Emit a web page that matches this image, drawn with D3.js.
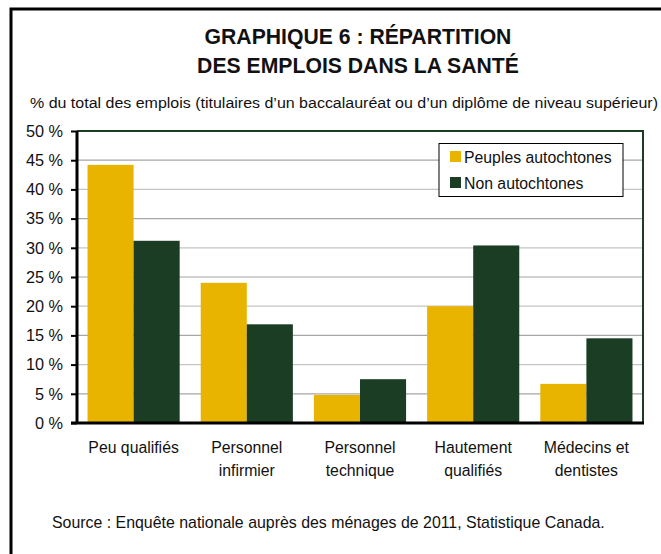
<!DOCTYPE html>
<html><head><meta charset="utf-8">
<script src="https://cdn.jsdelivr.net/npm/d3@7"></script>
<style>body{margin:0;background:#fff}svg{display:block;font-family:"Liberation Sans",Arial,sans-serif}</style>
</head><body><svg id="c" width="661" height="554"></svg>
<script>
const categories = [["Peu qualifiés"],["Personnel","infirmier"],["Personnel","technique"],["Hautement","qualifiés"],["Médecins et","dentistes"]];
const seriesNames = ["Peuples autochtones","Non autochtones"];
const seriesColors = ["#e8b400","#1a3d23"];
const autochtones = [44.2, 24.0, 4.8, 20.0, 6.7];
const nonAutochtones = [31.2, 16.9, 7.5, 30.4, 14.5];
const yTicks = [0,5,10,15,20,25,30,35,40,45,50];

const svg = d3.select("#c");
const L=77, R=643, T=131, B=423;
// outer frame
svg.append("rect").attr("x",11).attr("y",9).attr("width",700).attr("height",600)
  .attr("fill","none").attr("stroke","#000").attr("stroke-width",3);

svg.append("text").attr("x",358).attr("y",44).attr("text-anchor","middle")
  .attr("font-weight","bold").attr("font-size",21.2).attr("fill","#111").text("GRAPHIQUE 6 : RÉPARTITION");
svg.append("text").attr("x",358).attr("y",73).attr("text-anchor","middle")
  .attr("font-weight","bold").attr("font-size",21.2).attr("fill","#111").text("DES EMPLOIS DANS LA SANTÉ");
svg.append("text").attr("x",30).attr("y",108).attr("font-size",15.5).attr("fill","#111").attr("textLength",628).attr("lengthAdjust","spacingAndGlyphs")
  .text("% du total des emplois (titulaires d’un baccalauréat ou d’un diplôme de niveau supérieur)");

const x0 = d3.scaleBand().domain(d3.range(categories.length)).range([L,R]).paddingInner(0.186).paddingOuter(0.093);
const x1 = d3.scaleBand().domain([0,1]).range([0,x0.bandwidth()]);
const y = d3.scaleLinear().domain([0,50]).range([B,T]);

// gridlines
svg.append("g").selectAll("line").data(yTicks.filter(d=>d>0&&d<50)).join("line")
  .attr("x1",L).attr("x2",R).attr("y1",d=>y(d)).attr("y2",d=>y(d))
  .attr("stroke",(d,i)=>i%2? "#c4c4c4":"#a6a6a6").attr("stroke-width",1.2);
// plot frame top/right
svg.append("path").attr("d",`M${L},${y(50)}H${R}V${B}`).attr("fill","none").attr("stroke","#1a3d23").attr("stroke-width",2);

const data = [autochtones, nonAutochtones];
const g = svg.append("g");
data.forEach((vals,s)=>{
  g.selectAll(null).data(vals).join("rect")
    .attr("x",(d,i)=>x0(i)+x1(s)).attr("width",x1.bandwidth())
    .attr("y",d=>y(d)).attr("height",d=>B-y(d)).attr("fill",seriesColors[s]);
});

// y axis
const ya = svg.append("g").attr("transform",`translate(${L},0)`)
  .call(d3.axisLeft(y).tickValues(yTicks).tickFormat(d=>d+" %").tickSize(6).tickPadding(8));
ya.select(".domain").attr("stroke","#000").attr("stroke-width",3).attr("d",`M0,${T}V${B}`);
ya.selectAll(".tick line").attr("stroke","#000").attr("stroke-width",2);
ya.selectAll(".tick text").attr("font-size",16.3).attr("fill","#111").attr("font-family","Liberation Sans, Arial, sans-serif");
// x baseline
svg.append("line").attr("x1",L-6).attr("x2",R+1).attr("y1",B).attr("y2",B).attr("stroke","#000").attr("stroke-width",3);

// x labels
categories.forEach((lines,i)=>{
  const t = svg.append("text").attr("text-anchor","middle").attr("font-size",15.8).attr("fill","#111");
  lines.forEach((ln,j)=>t.append("tspan").attr("x",x0(i)+x0.bandwidth()/2).attr("y",453+j*23).text(ln));
});

// legend
svg.append("rect").attr("x",439).attr("y",143.5).attr("width",184).attr("height",53).attr("fill","#fff").attr("stroke","#000").attr("stroke-width",1);
seriesNames.forEach((n,i)=>{
  svg.append("rect").attr("x",450).attr("y",151+i*26).attr("width",11).attr("height",11).attr("fill",seriesColors[i]);
  svg.append("text").attr("x",464).attr("y",162.5+i*26).attr("font-size",15.8).attr("fill","#111").text(n);
});

svg.append("text").attr("x",52).attr("y",528).attr("font-size",15.9).attr("fill","#111")
  .text("Source : Enquête nationale auprès des ménages de 2011, Statistique Canada.");
</script></body></html>
